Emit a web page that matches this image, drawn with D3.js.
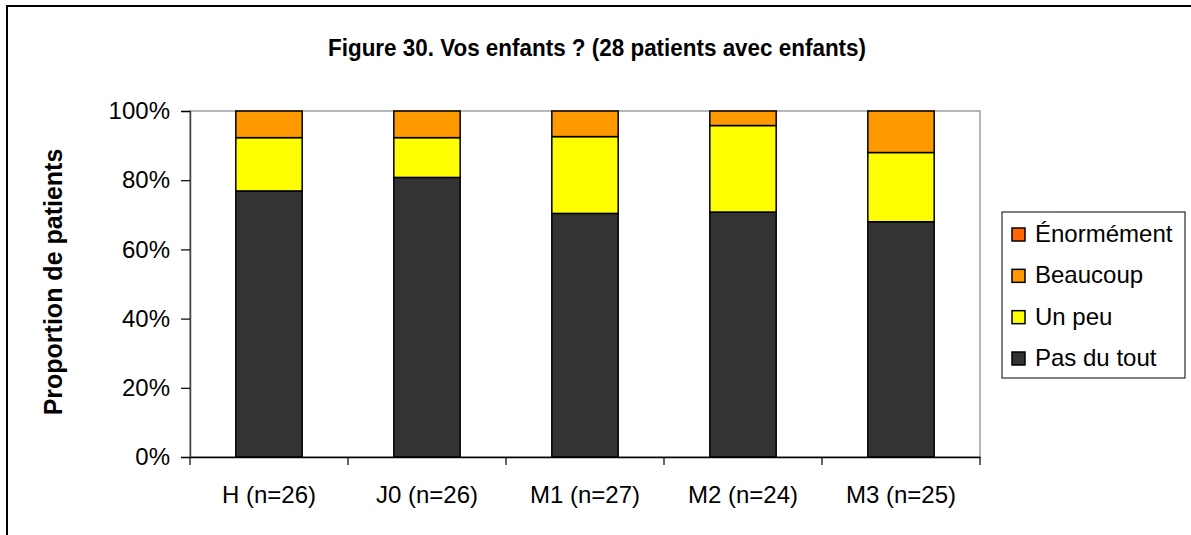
<!DOCTYPE html>
<html>
<head>
<meta charset="utf-8">
<script src="https://cdn.jsdelivr.net/npm/d3@7"></script>
<style>
  html, body { margin: 0; padding: 0; background: #fff; }
  svg { display: block; }
</style>
</head>
<body>
<svg id="chart" width="1191" height="535"></svg>
<script>
// ---- Data (percentages) ----
const categories = ["H (n=26)", "J0 (n=26)", "M1 (n=27)", "M2 (n=24)", "M3 (n=25)"];
const seriesNames = ["Pas du tout", "Un peu", "Beaucoup", "Énormément"];
const pasDuTout  = [76.9, 80.8, 70.4, 70.8, 68.0];
const unPeu      = [15.4, 11.5, 22.2, 25.0, 20.0];
const beaucoup   = [7.7, 7.7, 7.4, 4.2, 12.0];
const enormement = [0, 0, 0, 0, 0];
const yTicks = [0, 20, 40, 60, 80, 100];
const titleText = "Figure 30. Vos enfants ? (28 patients avec enfants)";
const yTitle = "Proportion de patients";

const colors = {
  "Pas du tout": "#333333",
  "Un peu": "#FFFF00",
  "Beaucoup": "#FF9900",
  "Énormément": "#FF6600"
};

const rows = categories.map((c, i) => ({
  cat: c,
  "Pas du tout": pasDuTout[i],
  "Un peu": unPeu[i],
  "Beaucoup": beaucoup[i],
  "Énormément": enormement[i]
}));

const svg = d3.select("#chart");
const font = "'Liberation Sans', Arial, sans-serif";

// outer frame
svg.append("path")
  .attr("d", "M7,535 L7,6 L1191,6")
  .attr("fill", "none").attr("stroke", "#000").attr("stroke-width", 2);

const plot = { left: 190, top: 111, right: 980, bottom: 457 };

const x = d3.scaleBand().domain(categories).range([plot.left, plot.right]).padding(0);
const y = d3.scaleLinear().domain([0, 100]).range([plot.bottom, plot.top]);

// plot area border (gray)
svg.append("rect")
  .attr("x", plot.left).attr("y", plot.top)
  .attr("width", plot.right - plot.left).attr("height", plot.bottom - plot.top)
  .attr("fill", "#fff").attr("stroke", "#a0a0a0").attr("stroke-width", 1.5);

// stacked bars
const stack = d3.stack().keys(seriesNames);
const stacked = stack(rows);
const barW = x.bandwidth() * 0.42;

svg.append("g").selectAll("g")
  .data(stacked)
  .join("g")
  .attr("fill", d => colors[d.key])
  .selectAll("rect")
  .data(d => d.filter(s => s[1] - s[0] > 0))
  .join("rect")
  .attr("x", d => x(d.data.cat) + (x.bandwidth() - barW) / 2)
  .attr("y", d => y(d[1]))
  .attr("width", barW)
  .attr("height", d => y(d[0]) - y(d[1]))
  .attr("stroke", "#000")
  .attr("stroke-width", 1.5);

// y axis
const yAxis = svg.append("g")
  .attr("transform", `translate(${plot.left},0)`)
  .call(d3.axisLeft(y).tickValues(yTicks).tickFormat(d => d + "%").tickSize(9).tickPadding(11));
yAxis.select(".domain").attr("stroke", "#444").attr("stroke-width", 1.5);
yAxis.selectAll(".tick line").attr("stroke", "#000").attr("stroke-width", 1.2);
yAxis.selectAll("text")
  .attr("font-family", font).attr("font-size", 24).attr("fill", "#000");

// x axis (labels)
const xAxis = svg.append("g")
  .attr("transform", `translate(0,${plot.bottom})`)
  .call(d3.axisBottom(x).tickSize(0).tickPadding(29));
xAxis.select(".domain").attr("stroke", "#000").attr("stroke-width", 1.5);
xAxis.selectAll("text")
  .attr("font-family", font).attr("font-size", 24).attr("fill", "#000");

// x tick marks at band boundaries
const bounds = categories.map(c => x(c)).concat([x.range()[1]]);
svg.append("g").selectAll("line")
  .data(bounds)
  .join("line")
  .attr("x1", d => d).attr("x2", d => d)
  .attr("y1", plot.bottom).attr("y2", plot.bottom + 8)
  .attr("stroke", "#000").attr("stroke-width", 1.2);

// title
svg.append("text")
  .attr("x", 597).attr("y", 56)
  .attr("text-anchor", "middle")
  .attr("font-family", "'Liberation Sans Narrow', 'Arial Narrow', 'Liberation Sans', Arial, sans-serif")
  .attr("font-weight", "bold")
  .attr("font-size", 23)
  .attr("textLength", 538)
  .attr("lengthAdjust", "spacingAndGlyphs")
  .text(titleText);

// y axis title
svg.append("text")
  .attr("transform", `translate(62,282) rotate(-90)`)
  .attr("text-anchor", "middle")
  .attr("font-family", font)
  .attr("font-weight", "bold")
  .attr("font-size", 25)
  .text(yTitle);

// legend
const legend = svg.append("g");
legend.append("rect")
  .attr("x", 1002).attr("y", 212).attr("width", 183).attr("height", 166)
  .attr("fill", "#fff").attr("stroke", "#000").attr("stroke-width", 1);

const legendOrder = seriesNames.slice().reverse();
const ly = d3.scalePoint().domain(legendOrder).range([242, 366]);
const li = legend.selectAll("g.item")
  .data(legendOrder)
  .join("g").attr("class", "item");
li.append("rect")
  .attr("x", 1012).attr("y", d => ly(d) - 14)
  .attr("width", 13).attr("height", 13)
  .attr("fill", d => colors[d])
  .attr("stroke", "#000").attr("stroke-width", 1.5);
li.append("text")
  .attr("x", 1035).attr("y", d => ly(d))
  .attr("font-family", font).attr("font-size", 24)
  .text(d => d);
</script>
</body>
</html>
